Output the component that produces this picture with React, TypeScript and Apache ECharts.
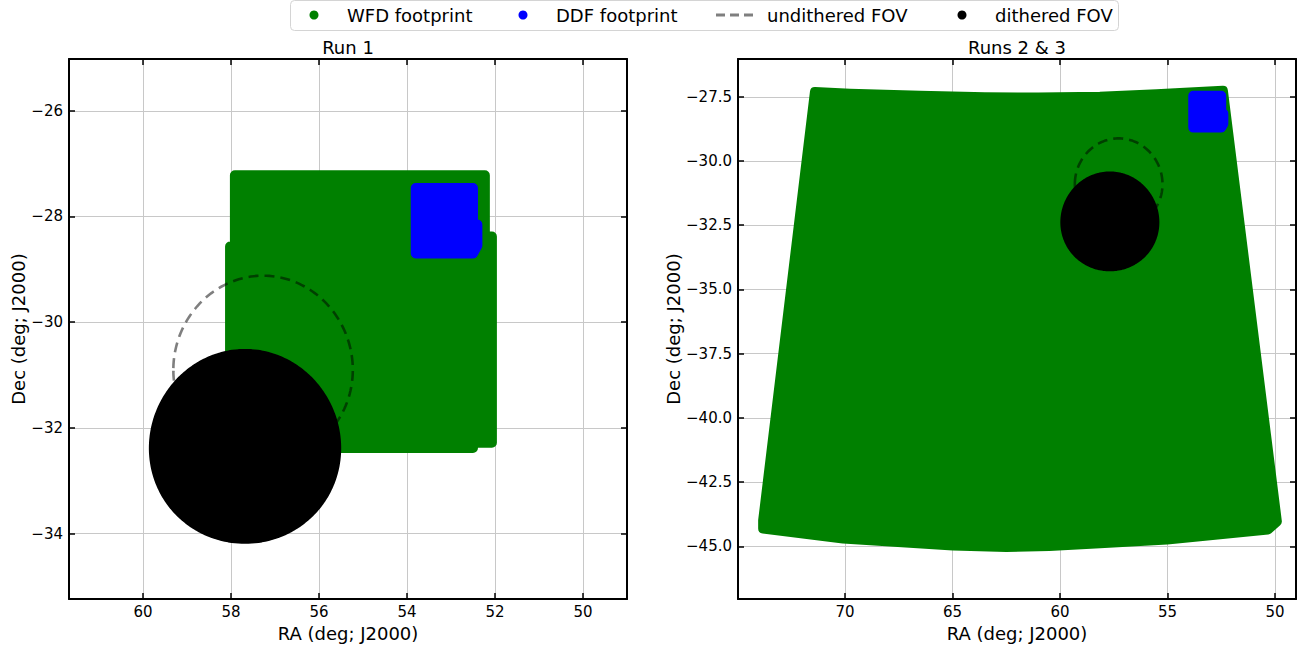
import React, { useEffect, useRef } from 'react';
import * as echarts from 'echarts';

// ---- axis ticks ----
const RUN1_X_TICKS = [50, 52, 54, 56, 58, 60];
const RUN1_Y_TICKS = [-34, -32, -30, -28, -26];
const RUN23_X_TICKS = [50, 55, 60, 65, 70];
const RUN23_Y_TICKS = [-45, -42.5, -40, -37.5, -35, -32.5, -30, -27.5];

// ---- axis ranges ----
const RUN1_X_RANGE = [49.0, 61.68];
const RUN1_Y_RANGE = [-35.24, -25.02];
const RUN23_X_RANGE = [49.02, 74.98];
const RUN23_Y_RANGE = [-47.05, -26.03];

// ---- footprints (RA, Dec of outermost pointing centres) ----
const WFD_RUN1: number[][] = [
  [57.91, -27.22], [52.23, -27.22], [52.23, -28.38], [52.07, -28.38],
  [52.07, -32.28], [52.5, -32.28], [52.5, -32.38], [58.02, -32.38],
  [58.02, -28.57], [57.91, -28.57],
];
const WFD_RUN23: number[][] = [
  [71.4, -27.31], [69.77, -27.38], [66.51, -27.46], [63.5, -27.52], [61.0, -27.53],
  [58.14, -27.5], [55.5, -27.4], [54.42, -27.35], [52.42, -27.27], [49.91, -44.03],
  [50.33, -44.34], [55.02, -44.73], [58.14, -44.88], [60.5, -44.98], [62.5, -45.02],
  [64.98, -44.96], [70.09, -44.69], [73.81, -44.3], [73.81, -43.99],
];
const DDF: number[][] = [
  [53.8, -27.46], [52.5, -27.46], [52.5, -28.15], [52.4, -28.15],
  [52.4, -28.55], [52.5, -28.7], [53.8, -28.7],
];
const UNDITHERED_CENTER = [57.27, -30.87];
const DITHERED_CENTER = [57.68, -32.35];
const FOV_RADIUS = 1.75;

const FONT = 'DejaVu Sans';
const GREEN = '#008000';
const BLUE = '#0000ff';
const DASH_COLOR = 'rgba(0,0,0,0.5)';

function circlePoints(c: number[], r: number): number[][] {
  const pts: number[][] = [];
  for (let i = 0; i <= 180; i++) {
    const t = (i / 180) * 2 * Math.PI;
    const dec = c[1] + r * Math.sin(t);
    pts.push([c[0] + (r * Math.cos(t)) / Math.cos((dec * Math.PI) / 180), dec]);
  }
  return pts;
}

function polySeries(name: string, grid: number, pts: number[][], color: string) {
  return {
    type: 'custom',
    name,
    xAxisIndex: grid * 2,
    yAxisIndex: grid * 2,
    data: [pts[0]],
    silent: true,
    clip: true,
    renderItem: (_p: any, api: any) => ({
      type: 'polygon',
      shape: { points: pts.map((p) => api.coord(p)) },
      style: { fill: color, stroke: color, lineWidth: 10, lineJoin: 'round' },
    }),
  };
}

function dashedSeries(name: string, grid: number, pts: number[][]) {
  return {
    type: 'custom',
    name,
    xAxisIndex: grid * 2,
    yAxisIndex: grid * 2,
    data: [pts[0]],
    silent: true,
    clip: true,
    renderItem: (_p: any, api: any) => ({
      type: 'polyline',
      shape: { points: pts.map((p) => api.coord(p)) },
      style: { fill: null, stroke: DASH_COLOR, lineWidth: 2.6, lineDash: [10, 6] },
    }),
  };
}

const minus = (v: number, dec: number) => {
  const s = Math.abs(v).toFixed(dec);
  return v < 0 ? '\u2212' + s : s;
};

function xAxes(grid: number, range: number[], ticks: number[]) {
  const common = {
    gridIndex: grid,
    type: 'value',
    inverse: true,
    min: range[0],
    max: range[1],
    axisLine: { show: true, onZero: false, lineStyle: { color: '#000', width: 2 } },
    axisTick: { show: true, inside: true, length: 6, customValues: ticks, lineStyle: { color: '#000', width: 1.5 } },
  };
  return [
    {
      ...common,
      position: 'bottom',
      axisLabel: { show: true, customValues: ticks, color: '#000', fontSize: 15, fontFamily: FONT, margin: 5, formatter: (v: number) => minus(v, 0) },
      splitLine: { show: true, lineStyle: { color: '#c8c8c8', width: 1 } },
      name: 'RA (deg; J2000)',
      nameLocation: 'middle',
      nameGap: 22,
      nameTextStyle: { fontSize: 18, fontFamily: FONT, color: '#000' },
    },
    {
      ...common,
      position: 'top',
      axisLabel: { show: false },
      splitLine: { show: false },
    },
  ];
}

function yAxes(grid: number, range: number[], ticks: number[], dec: number, gap: number) {
  const common = {
    gridIndex: grid,
    type: 'value',
    min: range[0],
    max: range[1],
    axisLine: { show: true, onZero: false, lineStyle: { color: '#000', width: 2 } },
    axisTick: { show: true, inside: true, length: 6, customValues: ticks, lineStyle: { color: '#000', width: 1.5 } },
  };
  return [
    {
      ...common,
      position: 'left',
      axisLabel: { show: true, customValues: ticks, color: '#000', fontSize: 15, fontFamily: FONT, margin: 6, formatter: (v: number) => minus(v, dec) },
      splitLine: { show: true, lineStyle: { color: '#c8c8c8', width: 1 } },
      name: 'Dec (deg; J2000)',
      nameLocation: 'middle',
      nameRotate: 90,
      nameGap: gap,
      nameTextStyle: { fontSize: 18, fontFamily: FONT, color: '#000' },
    },
    {
      ...common,
      position: 'right',
      axisLabel: { show: false },
      splitLine: { show: false },
    },
  ];
}

function legendGraphic() {
  const cy = 15;
  const txt = (x: number, s: string) => ({
    type: 'text', x, y: cy,
    style: { text: s, fontSize: 18, fontFamily: FONT, fill: '#000', align: 'left', verticalAlign: 'middle' },
  });
  return [
    { type: 'rect', shape: { x: 290.5, y: 0.5, width: 828, height: 30, r: 4 }, style: { fill: '#fff', stroke: '#d4d4d4', lineWidth: 1 } },
    { type: 'circle', shape: { cx: 314, cy, r: 4.5 }, style: { fill: GREEN } },
    txt(347, 'WFD footprint'),
    { type: 'circle', shape: { cx: 523, cy, r: 4.5 }, style: { fill: BLUE } },
    txt(556, 'DDF footprint'),
    { type: 'line', shape: { x1: 716, y1: cy, x2: 753, y2: cy }, style: { stroke: DASH_COLOR, lineWidth: 2.8, lineDash: [9, 5] } },
    txt(767, 'undithered FOV'),
    { type: 'circle', shape: { cx: 962, cy, r: 4.5 }, style: { fill: '#000' } },
    txt(995, 'dithered FOV'),
    { type: 'text', x: 348, y: 47, style: { text: 'Run 1', fontSize: 18, fontFamily: FONT, fill: '#000', align: 'center', verticalAlign: 'middle' } },
    { type: 'text', x: 1017, y: 47, style: { text: 'Runs 2 & 3', fontSize: 18, fontFamily: FONT, fill: '#000', align: 'center', verticalAlign: 'middle' } },
  ];
}

export default function App() {
  const ref = useRef<HTMLDivElement>(null);
  useEffect(() => {
    document.body.style.margin = '0';
    if (!ref.current) return;
    const chart = echarts.init(ref.current, null, { renderer: 'svg' });
    const undithered = circlePoints(UNDITHERED_CENTER, FOV_RADIUS);
    const dithered = circlePoints(DITHERED_CENTER, FOV_RADIUS);
    chart.setOption({
      animation: false,
      backgroundColor: '#fff',
      textStyle: { fontFamily: FONT },
      grid: [
        { left: 69, top: 59, width: 558, height: 544, containLabel: false },
        { left: 738, top: 59, width: 558, height: 544, containLabel: false },
      ],
      xAxis: [...xAxes(0, RUN1_X_RANGE, RUN1_X_TICKS), ...xAxes(1, RUN23_X_RANGE, RUN23_X_TICKS)],
      yAxis: [...yAxes(0, RUN1_Y_RANGE, RUN1_Y_TICKS, 0, 40), ...yAxes(1, RUN23_Y_RANGE, RUN23_Y_TICKS, 1, 56)],
      series: [
        polySeries('WFD footprint', 0, WFD_RUN1, GREEN),
        polySeries('DDF footprint', 0, DDF, BLUE),
        dashedSeries('undithered FOV', 0, undithered),
        polySeries('dithered FOV', 0, dithered, '#000'),
        polySeries('WFD footprint', 1, WFD_RUN23, GREEN),
        polySeries('DDF footprint', 1, DDF, BLUE),
        dashedSeries('undithered FOV', 1, undithered),
        polySeries('dithered FOV', 1, dithered, '#000'),
      ],
      graphic: legendGraphic(),
    });
    return () => chart.dispose();
  }, []);
  return <div ref={ref} style={{ width: 1307, height: 647 }} />;
}
